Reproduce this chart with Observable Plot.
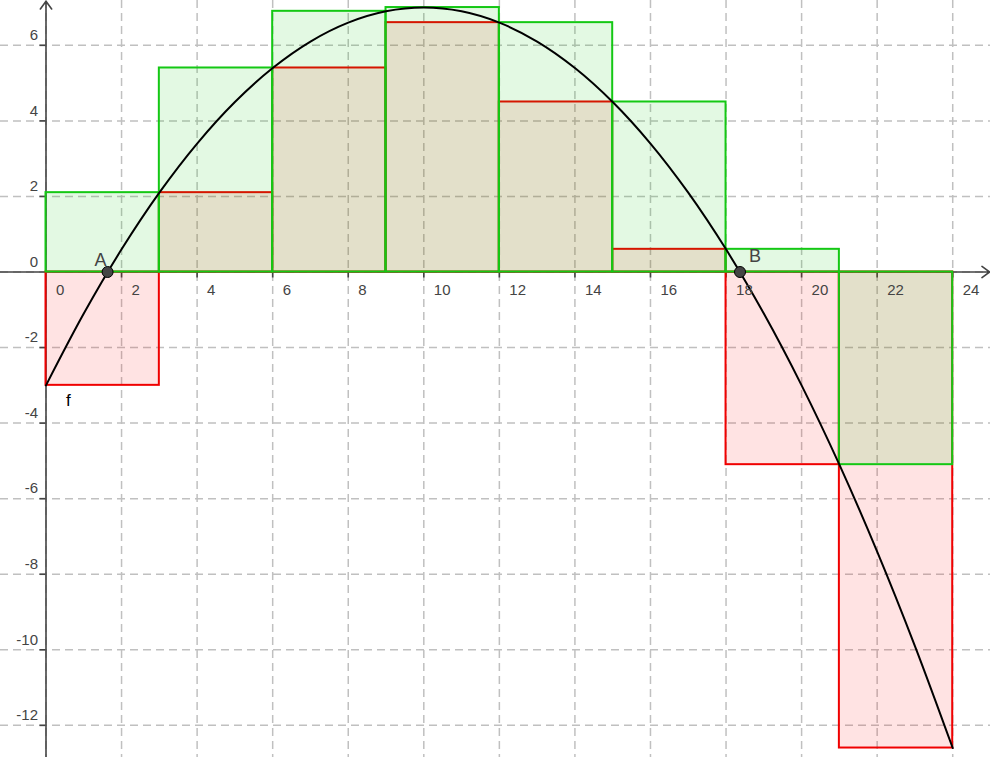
<!DOCTYPE html>
<html>
<head>
<meta charset="utf-8">
<script src="https://cdn.jsdelivr.net/npm/d3@7"></script>
<script src="https://cdn.jsdelivr.net/npm/@observablehq/plot@0.6"></script>
<style>
  html, body { margin: 0; padding: 0; background: #fff; }
  #chart svg { display: block; }
</style>
</head>
<body>
<div id="chart"></div>
<script>
// ---- data ----
const intervalStart = [0, 3, 6, 9, 12, 15, 18, 21];
const intervalEnd   = [3, 6, 9, 12, 15, 18, 21, 24];
const upperSum = [2.1, 5.4, 6.9, 7.0, 6.6, 4.5, 0.6, -5.1];   // green rectangles
const lowerSum = [-3.0, 2.1, 5.4, 6.6, 4.5, 0.6, -5.1, -12.6]; // red rectangles

const curveX = [0, 1, 2, 3, 4, 5, 6, 7, 8, 9, 10, 11, 12, 13, 14, 15, 16, 17, 18, 19, 20, 21, 22, 23, 24];
const curveY = [-3.0, -1.1, 0.6, 2.1, 3.4, 4.5, 5.4, 6.1, 6.6, 6.9, 7.0, 6.9, 6.6, 6.1, 5.4, 4.5, 3.4, 2.1, 0.6, -1.1, -3.0, -5.1, -7.4, -9.9, -12.6];

const pointNames = ["A", "B"];
const pointX = [1.63, 18.37];
const pointY = [0, 0];

const xTickValues = [0, 2, 4, 6, 8, 10, 12, 14, 16, 18, 20, 22, 24];
const xTickLabels = ["0", "2", "4", "6", "8", "10", "12", "14", "16", "18", "20", "22", "24"];
const yTickValues = [-12, -10, -8, -6, -4, -2, 0, 2, 4, 6];
const yTickLabels = ["-12", "-10", "-8", "-6", "-4", "-2", "0", "2", "4", "6"];

const functionName = "f";
const functionLabelX = 0;
const functionLabelY = -3;

// ---- view (GeoGebra-like window) ----
const W = 990, H = 757;
const k = 37.78;          // pixels per unit
const originPx = 45.5, originPy = 271.5;
const xMin = -originPx / k, xMax = (W - originPx) / k;
const yMin = -(H - originPy) / k, yMax = originPy / k;
const tick = 6 / k;

const rects = intervalStart.map((a, i) => ({a, b: intervalEnd[i], up: upperSum[i], lo: lowerSum[i]}));
const curve = curveX.map((x, i) => ({x, y: curveY[i]}));
const pts = pointNames.map((n, i) => ({n, x: pointX[i], y: pointY[i]}));
const xt = xTickValues.map((v, i) => ({v, t: xTickLabels[i]}));
const yt = yTickValues.map((v, i) => ({v, t: yTickLabels[i]}));

const font = "'Liberation Sans', Arial, sans-serif";
const gridColor = "#c0c0c0";
const axisColor = "#444";

const chart = Plot.plot({
  width: W,
  height: H,
  margin: 0,
  x: {domain: [xMin, xMax], axis: null},
  y: {domain: [yMin, yMax], axis: null},
  style: {background: "#fff", fontFamily: font, overflow: "visible"},
  marks: [
    // grid
    Plot.ruleX(xTickValues, {x: d => d, stroke: gridColor, strokeWidth: 1.5, strokeDasharray: "8,5"}),
    Plot.ruleY(yTickValues, {y: d => d, stroke: gridColor, strokeWidth: 1.5, strokeDasharray: "8,5"}),
    // axes
    Plot.arrow([{x1: xMin, y1: 0, x2: xMax - 0.02, y2: 0}], {x1: "x1", y1: "y1", x2: "x2", y2: "y2", stroke: axisColor, strokeWidth: 1.6, headLength: 9, headAngle: 72}),
    Plot.arrow([{x1: 0, y1: yMin, x2: 0, y2: yMax - 0.02}], {x1: "x1", y1: "y1", x2: "x2", y2: "y2", stroke: axisColor, strokeWidth: 1.6, headLength: 9, headAngle: 72}),
    Plot.ruleX(xTickValues.filter(v => v !== 0), {x: d => d, y1: 0, y2: -tick, stroke: axisColor, strokeWidth: 1.6}),
    Plot.ruleY(yTickValues.filter(v => v !== 0), {y: d => d, x1: 0, x2: -tick, stroke: axisColor, strokeWidth: 1.6}),
    // lower sum (red) then upper sum (green)
    Plot.rect(rects, {x1: "a", x2: "b", y1: 0, y2: "lo", fill: "rgb(255,0,0)", fillOpacity: 0.11, stroke: "rgb(240,0,0)", strokeWidth: 2}),
    Plot.rect(rects, {x1: "a", x2: "b", y1: 0, y2: "up", fill: "rgb(0,200,0)", fillOpacity: 0.11, stroke: "rgb(20,200,20)", strokeWidth: 2}),
    // function
    Plot.line(curve, {x: "x", y: "y", curve: "catmull-rom", stroke: "#000", strokeWidth: 2}),
    // tick labels
    Plot.text(xt, {x: "v", y: 0, text: "t", textAnchor: "start", lineAnchor: "middle", dx: 10, dy: 18, fontSize: 15, fill: "#444"}),
    Plot.text(yt, {x: 0, y: "v", text: "t", textAnchor: "end", lineAnchor: "middle", dx: -8, dy: -10, fontSize: 15, fill: "#444"}),
    // points
    Plot.dot(pts, {x: "x", y: "y", r: 5.5, fill: "#444", stroke: "#000", strokeWidth: 1}),
    Plot.text(pts.filter(d => d.n === "A"), {x: "x", y: "y", text: "n", textAnchor: "start", lineAnchor: "middle", dx: -13, dy: -12, fontSize: 18, fill: "#444"}),
    Plot.text(pts.filter(d => d.n === "B"), {x: "x", y: "y", text: "n", textAnchor: "start", lineAnchor: "middle", dx: 9, dy: -16, fontSize: 18, fill: "#444"}),
    Plot.text([{x: functionLabelX, y: functionLabelY, t: functionName}], {x: "x", y: "y", text: "t", textAnchor: "start", lineAnchor: "middle", dx: 20, dy: 15, fontSize: 17, fill: "#000"})
  ]
});
document.getElementById("chart").appendChild(chart);
</script>
</body>
</html>
